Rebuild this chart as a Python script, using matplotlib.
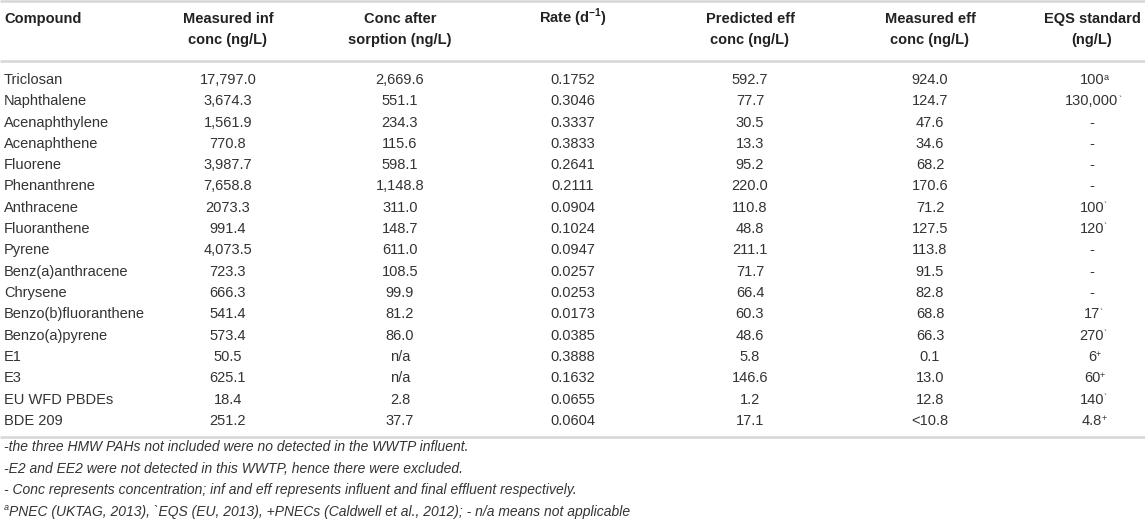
import matplotlib
matplotlib.use("Agg")
import matplotlib.pyplot as plt

plt.rcParams['font.family'] = ['Liberation Sans', 'DejaVu Sans']
plt.rcParams['mathtext.fontset'] = 'custom'
plt.rcParams['mathtext.rm'] = 'Liberation Sans'
plt.rcParams['mathtext.bf'] = 'Liberation Sans:bold'

# table content
headers_1 = ["Compound", "Measured inf", "Conc after", "Rate (d$^{\\mathbf{-1}}$)",
             "Predicted eff", "Measured eff", "EQS standard"]
headers_2 = ["", "conc (ng/L)", "sorption (ng/L)", "", "conc (ng/L)", "conc (ng/L)", "(ng/L)"]
compounds = ["Triclosan", "Naphthalene", "Acenaphthylene", "Acenaphthene", "Fluorene",
             "Phenanthrene", "Anthracene", "Fluoranthene", "Pyrene", "Benz(a)anthracene",
             "Chrysene", "Benzo(b)fluoranthene", "Benzo(a)pyrene", "E1", "E3",
             "EU WFD PBDEs", "BDE 209"]
measured_inf = ["17,797.0", "3,674.3", "1,561.9", "770.8", "3,987.7", "7,658.8", "2073.3",
                "991.4", "4,073.5", "723.3", "666.3", "541.4", "573.4", "50.5", "625.1",
                "18.4", "251.2"]
after_sorption = ["2,669.6", "551.1", "234.3", "115.6", "598.1", "1,148.8", "311.0", "148.7",
                  "611.0", "108.5", "99.9", "81.2", "86.0", "n/a", "n/a", "2.8", "37.7"]
rate = ["0.1752", "0.3046", "0.3337", "0.3833", "0.2641", "0.2111", "0.0904", "0.1024",
        "0.0947", "0.0257", "0.0253", "0.0173", "0.0385", "0.3888", "0.1632", "0.0655",
        "0.0604"]
predicted_eff = ["592.7", "77.7", "30.5", "13.3", "95.2", "220.0", "110.8", "48.8", "211.1",
                 "71.7", "66.4", "60.3", "48.6", "5.8", "146.6", "1.2", "17.1"]
measured_eff = ["924.0", "124.7", "47.6", "34.6", "68.2", "170.6", "71.2", "127.5", "113.8",
                "91.5", "82.8", "68.8", "66.3", "0.1", "13.0", "12.8", "<10.8"]
eqs = ["100", "130,000", "-", "-", "-", "-", "100", "120", "-", "-", "-", "17", "270",
       "6", "60", "140", "4.8"]
eqs_mark = ["a", "`", "", "", "", "", "`", "`", "", "", "", "`", "`", "+", "+", "`", "+"]
notes = ["-the three HMW PAHs not included were no detected in the WWTP influent.",
         "-E2 and EE2 were not detected in this WWTP, hence there were excluded.",
         "- Conc represents concentration; inf and eff represents influent and final effluent respectively.",
         "PNEC (UKTAG, 2013), `EQS (EU, 2013), +PNECs (Caldwell et al., 2012); - n/a means not applicable"]

W, H = 1145, 529
fig = plt.figure(figsize=(W / 100, H / 100), dpi=100)
ax = fig.add_axes([0, 0, 1, 1])
ax.set_xlim(0, W)
ax.set_ylim(H, 0)
ax.axis('off')

txt = '#333333'
rule = '#d6d6d6'
fs = 10.5

col_x = [4, 228, 400, 573, 750, 930, 1092]

# rules
for y in [1, 61, 437]:
    ax.plot([0, W], [y, y], color=rule, lw=1.8, solid_capstyle='butt')

# header, two lines
for i in range(len(col_x)):
    ha = 'left' if i == 0 else 'center'
    ax.text(col_x[i], 23, headers_1[i], ha=ha, va='baseline', fontsize=fs,
            fontweight='bold', color='#222222')
    if headers_2[i]:
        ax.text(col_x[i], 44, headers_2[i], ha=ha, va='baseline', fontsize=fs,
                fontweight='bold', color='#222222')

# body
cols = [measured_inf, after_sorption, rate, predicted_eff, measured_eff]
y0, dy = 80, 21.3
for r, name in enumerate(compounds):
    y = y0 + r * dy
    ax.text(col_x[0], y, name, ha='left', va='center', fontsize=fs, color=txt)
    for c, vals in enumerate(cols):
        ax.text(col_x[c + 1], y, vals[r], ha='center', va='center', fontsize=fs, color=txt)
    t = ax.text(col_x[6], y, eqs[r], ha='center', va='center', fontsize=fs, color=txt)
    if eqs_mark[r]:
        ax.annotate(eqs_mark[r], xy=(1, 1), xycoords=t, xytext=(-0.3, -5.2),
                    textcoords='offset points', ha='left', va='baseline',
                    fontsize=6.5, color=txt)

# footnotes
for k, n in enumerate(notes):
    y = 447 + k * 21.7
    x = 4
    if k == 3:
        ax.text(x, y - 5, "a", ha='left', va='center', fontsize=6.5, style='italic', color=txt)
        x = 9
    ax.text(x, y, n, ha='left', va='center', fontsize=10, style='italic', color=txt)

fig.savefig("out.png", dpi=100)
